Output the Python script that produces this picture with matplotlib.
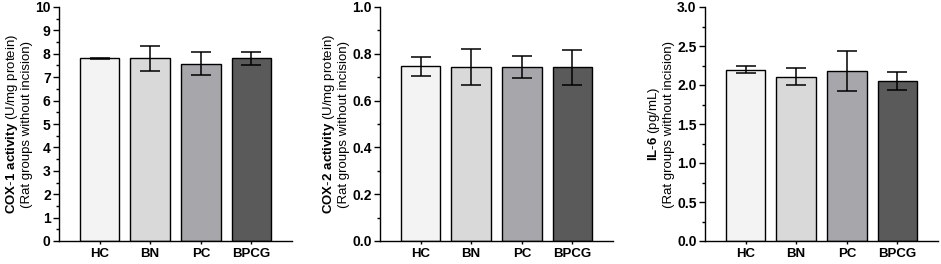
import matplotlib
matplotlib.use("Agg")
import matplotlib.pyplot as plt
from matplotlib.ticker import MultipleLocator

plt.rcParams["font.family"] = ["Liberation Sans", "DejaVu Sans"]
plt.rcParams["mathtext.fontset"] = "custom"
plt.rcParams["mathtext.rm"] = "Liberation Sans"
plt.rcParams["mathtext.bf"] = "Liberation Sans:bold"

groups = ["HC", "BN", "PC", "BPCG"]
bar_colors = ["#f3f3f3", "#d9d9d9", "#a6a6ab", "#5a5a5a"]

cox1_mean = [7.80, 7.80, 7.57, 7.80]
cox1_err = [0.02, 0.52, 0.49, 0.26]
cox2_mean = [0.747, 0.742, 0.743, 0.742]
cox2_err = [0.040, 0.077, 0.048, 0.074]
il6_mean = [2.195, 2.105, 2.178, 2.050]
il6_err = [0.045, 0.110, 0.260, 0.120]

panels = [
    dict(mean=cox1_mean, err=cox1_err, ymax=10, major=1, minor=0.5, fmt="{:.0f}",
         label=r"$\bf{COX\text{-}1\ activity}$ (U/mg protein)" + "\n(Rat groups without incision)",
         left=59),
    dict(mean=cox2_mean, err=cox2_err, ymax=1.0, major=0.2, minor=0.1, fmt="{:.1f}",
         label=r"$\bf{COX\text{-}2\ activity}$ (U/mg protein)" + "\n(Rat groups without incision)",
         left=380),
    dict(mean=il6_mean, err=il6_err, ymax=3.0, major=0.5, minor=0.25, fmt="{:.1f}",
         label=r"$\bf{IL\text{-}6}$ (pg/mL)" + "\n(Rat groups without incision)",
         left=705),
]

W, H = 941, 264
fig = plt.figure(figsize=(W / 100, H / 100), dpi=100)

for p in panels:
    ax = fig.add_axes([p["left"] / W, 23 / H, 233 / W, 234 / H])
    x = range(len(groups))
    ax.bar(x, p["mean"], width=0.78, color=bar_colors, edgecolor="black", linewidth=1.0, zorder=2)
    ax.errorbar(x, p["mean"], yerr=p["err"], fmt="none", ecolor="black",
                elinewidth=1.1, capsize=7.5, capthick=1.1, zorder=3)

    ax.set_xlim(-0.8, 3.8)
    ax.set_ylim(0, p["ymax"])
    ax.yaxis.set_major_locator(MultipleLocator(p["major"]))
    ax.yaxis.set_minor_locator(MultipleLocator(p["minor"]))
    ticks = ax.get_yticks()
    ax.set_yticks(ticks)
    ax.set_yticklabels([p["fmt"].format(t) for t in ticks])
    ax.set_ylim(0, p["ymax"])
    ax.set_xticks(list(x))
    ax.set_xticklabels(groups)

    for side in ("top", "right"):
        ax.spines[side].set_visible(False)
    for side in ("left", "bottom"):
        ax.spines[side].set_linewidth(1.0)

    ax.tick_params(axis="y", which="major", length=4, width=1.0, pad=2, labelsize=10)
    ax.tick_params(axis="y", which="minor", length=2.5, width=1.0)
    ax.tick_params(axis="x", length=2.5, width=1.0, pad=2.5, labelsize=9.5)
    for lab in ax.get_xticklabels() + ax.get_yticklabels():
        lab.set_fontweight("bold")

    ax.set_ylabel(p["label"], fontsize=9.5, linespacing=1.1, labelpad=1.5)

fig.savefig("out.png", dpi=100)
